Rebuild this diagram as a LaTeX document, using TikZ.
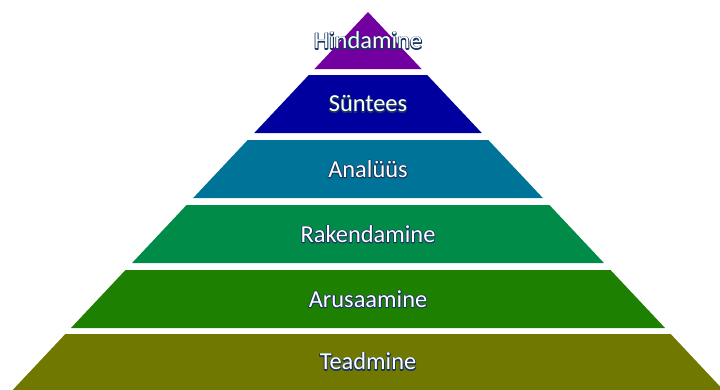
\documentclass[tikz,border=0pt]{standalone}
\usepackage{fontspec}
\setmainfont{Carlito}
\definecolor{hindcol}{RGB}{114,0,160}
\definecolor{sontcol}{RGB}{0,0,158}
\definecolor{analcol}{RGB}{0,116,152}
\definecolor{rakecol}{RGB}{0,140,72}
\definecolor{arucol}{RGB}{30,128,0}
\definecolor{teadcol}{RGB}{112,120,0}
\tikzset{
	levellabel/.style={font=\fontsize{24.5}{28}\selectfont, text=white, inner sep=0pt},
}
% white letters with a dark blue rim: stroked copy below, filled copy on top
\newcommand{\levtext}[1]{\rlap{\special{pdf:literal direct 1 Tr 1.8 w 0.09 0.21 0.38 RG}#1\special{pdf:literal direct 0 Tr}}#1}
\begin{document}
\begin{tikzpicture}[x=1bp, y=-1bp, line join=round]
		\useasboundingbox (0,0) rectangle (720,389);
		% levels of the pyramid, from the top
		\foreach \t/\b/\c/\txt [count=\i] in {12/69/hindcol/Hindamine, 75/133/sontcol/Süntees, 140/198/analcol/Analüüs, 205/263/rakecol/Rakendamine, 270/328/arucol/Arusaamine, 334/392/teadcol/Teadmine}{
			\fill[\c] ({368-0.94*(\t-12)},\t) -- ({368+0.94*(\t-12)},\t) -- ({368+0.94*(\b-12)},\b) -- ({368-0.94*(\b-12)},\b) -- cycle;
			\node[levellabel] (lev\i) at (368,{(\t+min(\b,389))/2}) {\levtext{\txt}};
		}
	\end{tikzpicture}
\end{document}
